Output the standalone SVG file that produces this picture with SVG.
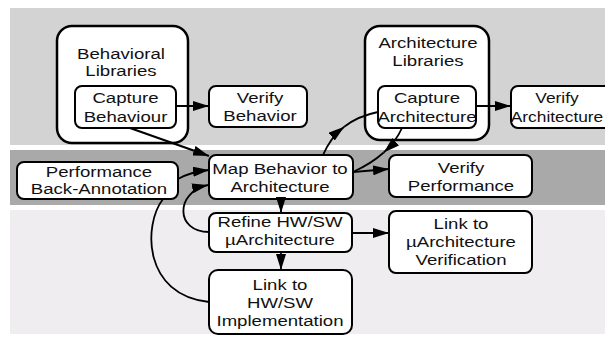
<svg xmlns="http://www.w3.org/2000/svg" width="605" height="337" viewBox="0 0 605 337">
<defs>
<style>
.box{fill:#fff;stroke:#000;stroke-width:2}
.lib{fill:#fff;stroke:#000;stroke-width:2.5}
.t{font-family:"Liberation Sans",Arial,Helvetica,sans-serif;font-size:15.5px;fill:#111;text-anchor:middle}
.c{fill:none;stroke:#000;stroke-width:1.8}
.a{marker-end:url(#ah)}
</style>
<marker id="ah" viewBox="0 0 16 10" refX="16" refY="5" markerWidth="16" markerHeight="10" markerUnits="userSpaceOnUse" orient="auto">
<path d="M0,0 L16,5 L0,10 z" fill="#000"/>
</marker>
</defs>
<rect width="605" height="337" fill="#fff"/>
<g id="bands">
<rect x="10" y="8" width="595" height="137" fill="#d3d3d3"/>
<rect x="10" y="150" width="595" height="55" fill="#a9a9a9"/>
<rect x="10" y="210" width="595" height="124" fill="#efedef"/>
</g>
<g id="behavioral-libraries">
<rect class="lib" x="57" y="26" width="131" height="117" rx="15"/>
<text class="t" transform="translate(121,59) scale(1.2,1)">Behavioral<tspan x="0" dy="17">Libraries</tspan></text>
</g>
<g id="architecture-libraries">
<rect class="lib" x="365" y="26" width="124" height="114" rx="15"/>
<text class="t" transform="translate(428,48) scale(1.2,1)">Architecture<tspan x="0" dy="18">Libraries</tspan></text>
</g>
<g id="capture-behaviour">
<rect class="box" x="75" y="86" width="101" height="42" rx="7"/>
<text class="t" transform="translate(125.5,103) scale(1.2,1)">Capture<tspan x="0" dy="19">Behaviour</tspan></text>
</g>
<g id="verify-behavior">
<rect class="box" x="209" y="86" width="98" height="41" rx="7"/>
<text class="t" transform="translate(260,103) scale(1.2,1)">Verify<tspan x="0" dy="18">Behavior</tspan></text>
</g>
<g id="capture-architecture">
<rect class="box" x="378" y="86" width="98" height="42" rx="7"/>
<text class="t" transform="translate(427,103) scale(1.2,1)">Capture<tspan x="0" dy="19">Architecture</tspan></text>
</g>
<g id="verify-architecture">
<rect class="box" x="511" y="86" width="110" height="42" rx="7"/>
<text class="t" transform="translate(557,103) scale(1.12,1)">Verify<tspan x="0" dy="19">Architecture</tspan></text>
</g>
<g id="performance-back-annotation">
<rect class="box" x="17" y="162" width="161" height="37" rx="7"/>
<text class="t" transform="translate(99,177) scale(1.2,1)">Performance<tspan x="0" dy="17">Back-Annotation</tspan></text>
</g>
<g id="map-behavior">
<rect class="box" x="209" y="155" width="144" height="44" rx="7"/>
<text class="t" transform="translate(280,174) scale(1.2,1)">Map Behavior to<tspan x="0" dy="18">Architecture</tspan></text>
</g>
<g id="verify-performance">
<rect class="box" x="389" y="155" width="143" height="42" rx="7"/>
<text class="t" transform="translate(461,173) scale(1.2,1)">Verify<tspan x="0" dy="18">Performance</tspan></text>
</g>
<g id="refine-hwsw">
<rect class="box" x="209" y="213" width="143" height="39" rx="7"/>
<text class="t" transform="translate(280,227) scale(1.2,1)">Refine HW/SW<tspan x="0" dy="18">µArchitecture</tspan></text>
</g>
<g id="link-uarch-verification">
<rect class="box" x="389" y="211" width="143" height="62" rx="7"/>
<text class="t" transform="translate(461,229) scale(1.2,1)">Link to<tspan x="0" dy="18">µArchitecture</tspan><tspan x="0" dy="18">Verification</tspan></text>
</g>
<g id="link-hwsw-implementation">
<rect class="box" x="209" y="270" width="143" height="64" rx="9"/>
<text class="t" transform="translate(280,290) scale(1.2,1)">Link to<tspan x="0" dy="18">HW/SW</tspan><tspan x="0" dy="18">Implementation</tspan></text>
</g>
<g id="connectors">
<path class="c a" d="M176,106 L209,106"/>
<path class="c a" d="M130,128 L209,156" style="stroke-width:2.2"/>
<path class="c a" d="M178,179 Q190,172 209,170"/>
<path class="c a" d="M209,232 C175,232 175,192 208,185"/>
<path class="c" d="M209,302 C143,295 143,225 163,199"/>
<path class="c a" d="M281,199 L281,213"/>
<path class="c a" d="M281,252 L281,270"/>
<path class="c a" d="M352,233 L389,233"/>
<path class="c a" d="M323,155 Q330.5,137.5 344.25,126.75"/>
<path class="c" d="M344.25,126.75 Q358,116 378,112"/>
<path class="c a" d="M402,128 Q396,141.5 383.75,152.5"/>
<path class="c" d="M383.75,152.5 Q371.5,163.5 353,172"/>
<path class="c a" d="M353,172 L389,169"/>
<path class="c a" d="M476,106 L511,106"/>
</g>
</svg>
